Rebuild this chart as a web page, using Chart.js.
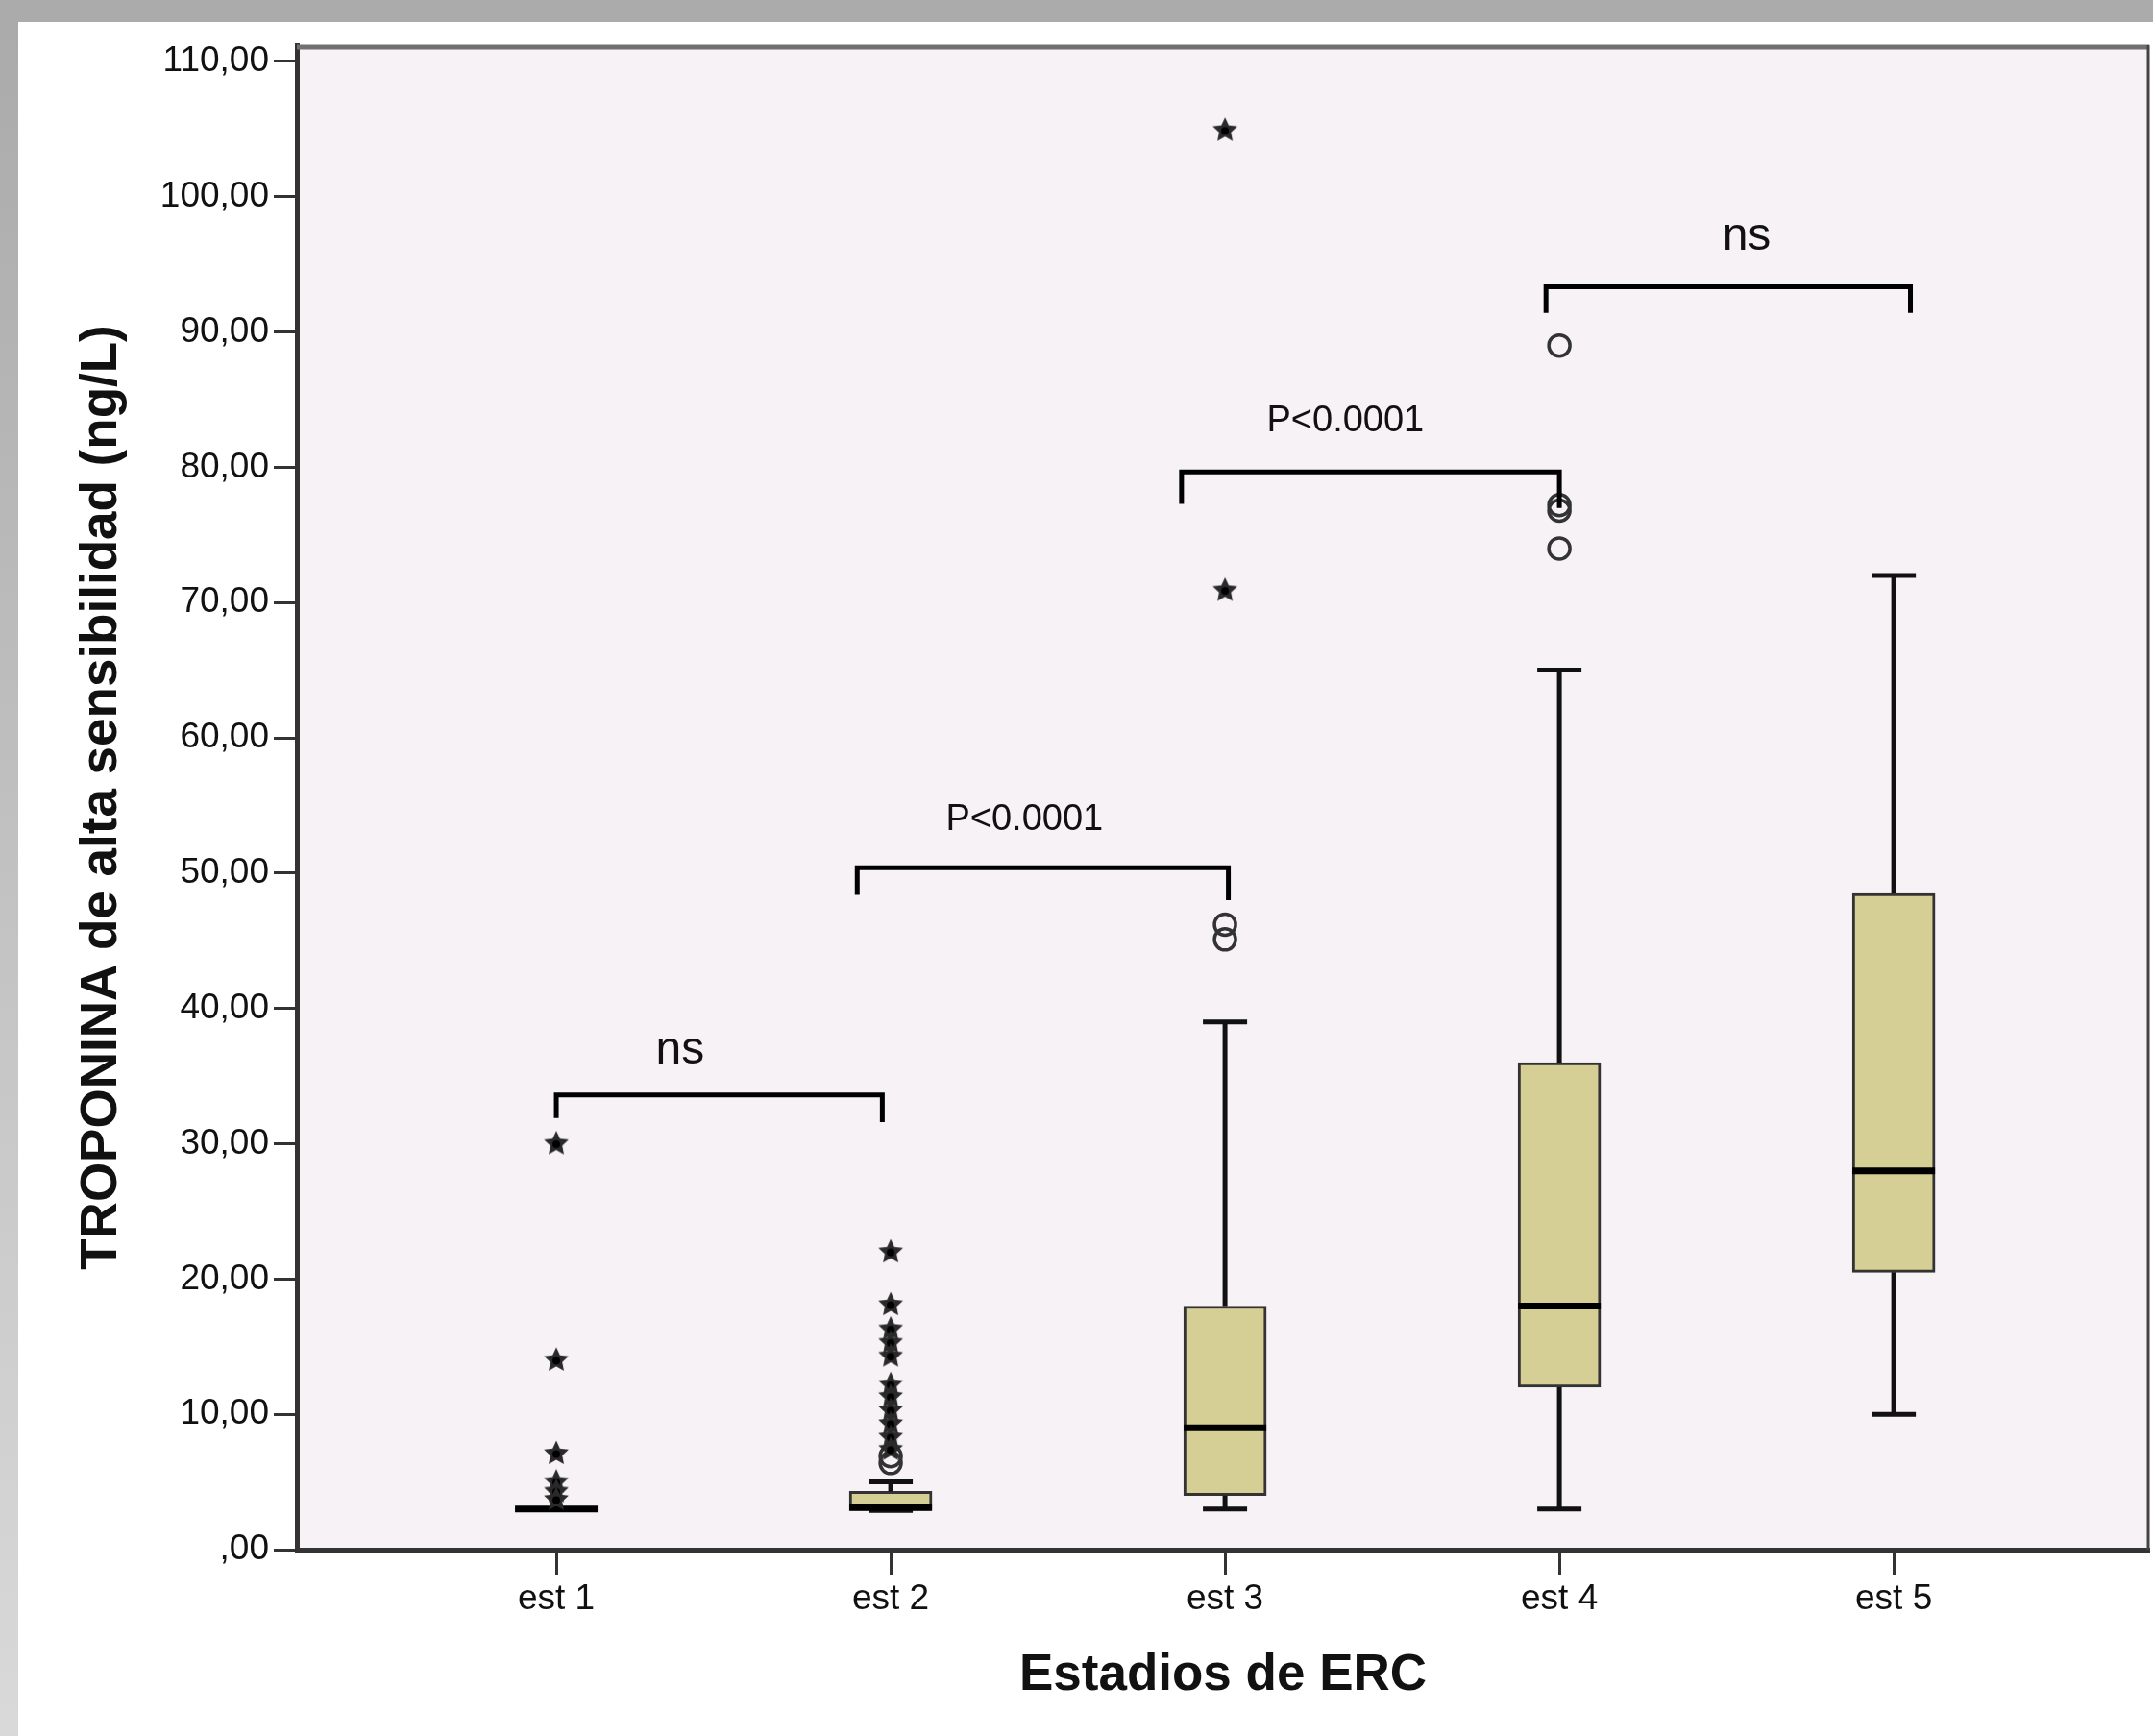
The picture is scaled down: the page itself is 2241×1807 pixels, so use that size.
<!DOCTYPE html>
<html>
<head>
<meta charset="utf-8">
<script src="https://cdn.jsdelivr.net/npm/chart.js@4.4.1/dist/chart.umd.min.js"></script>
<style>
    html, body { margin: 0; padding: 0; background: #fff; }
    #wrap { position: relative; width: 2241px; height: 1807px; }
</style>
</head>
<body>
<div id="wrap"><canvas id="chart" width="2241" height="1807"></canvas></div>
<script>
const categories = ['est 1', 'est 2', 'est 3', 'est 4', 'est 5'];
const whiskerLow = [3, 2.9, 3, 3, 10];
const q1 = [3, 2.9, 4, 12, 20.5];
const medians = [3, 3.1, 9, 18, 28];
const q3 = [3, 4.3, 18, 36, 48.5];
const whiskerHigh = [3, 5, 39, 65, 72];
const outliersCircle = [[], [6.9, 6.4], [46.2, 45.1], [89, 77.2, 76.8, 74], []];
const outliersStar = [
    [30, 14, 7.1, 5, 4.3, 3.7],
    [22, 18.1, 16.3, 15.3, 14.3, 12.2, 11.3, 10.3, 9.3, 8.3, 7.4],
    [104.9, 70.9],
    [],
    []
];
const yTicks = [0, 10, 20, 30, 40, 50, 60, 70, 80, 90, 100, 110];
const yTickLabels = [',00', '10,00', '20,00', '30,00', '40,00', '50,00', '60,00', '70,00', '80,00', '90,00', '100,00', '110,00'];

// significance brackets (data units)
const bracketLabels = ['ns', 'P<0.0001', 'P<0.0001', 'ns'];
const bracketFrom = [1.0, 1.9, 2.87, 3.96];
const bracketTo = [1.975, 3.01, 4.0, 5.05];
const bracketTop = [33.6, 50.4, 79.65, 93.35];
const bracketFromEnd = [31.9, 48.4, 77.3, 91.4];
const bracketToEnd = [31.6, 48.0, 77.0, 91.4];
const labelX = [1.37, 2.4, 3.36, 4.56];
const labelY = [36.9, 53.9, 83.4, 97.0];

const FONT = "'Liberation Sans', Arial, sans-serif";

// star marker for extreme values
const star = document.createElement('canvas');
star.width = 30; star.height = 30;
(() => {
    const c = star.getContext('2d');
    c.beginPath();
    for (let i = 0; i < 10; i++) {
        const r = i % 2 === 0 ? 13.5 : 6.5;
        const a = -Math.PI / 2 + i * Math.PI / 5;
        const px = 15 + r * Math.cos(a), py = 15 + r * Math.sin(a);
        if (i === 0) c.moveTo(px, py); else c.lineTo(px, py);
    }
    c.closePath();
    c.fillStyle = '#2a2a2a';
    c.fill();
    c.fillStyle = '#000';
    c.beginPath();
    c.arc(15, 15.5, 4, 0, Math.PI * 2);
    c.fill();
})();

const framePlugin = {
    id: 'frame',
    beforeDraw(chart) {
        const {ctx, chartArea: a, width, height} = chart;
        ctx.save();
        ctx.fillStyle = '#fff';
        ctx.fillRect(0, 0, width, height);
        const g = ctx.createLinearGradient(0, 0, 0, height);
        g.addColorStop(0, '#aaaaaa');
        g.addColorStop(1, '#d9d9d9');
        ctx.fillStyle = g;
        ctx.fillRect(0, 0, 19, height);
        ctx.fillStyle = '#ababab';
        ctx.fillRect(0, 0, width, 23);
        ctx.fillStyle = '#f7f2f6';
        ctx.fillRect(a.left, a.top, a.right - a.left, a.bottom - a.top);
        ctx.restore();
    },
    afterDraw(chart) {
        const {ctx, chartArea: a} = chart;
        ctx.save();
        ctx.strokeStyle = '#707070';
        ctx.lineWidth = 5;
        ctx.beginPath();
        ctx.moveTo(a.left, a.top + 2);
        ctx.lineTo(a.right, a.top + 2);
        ctx.stroke();
        ctx.strokeStyle = '#444';
        ctx.lineWidth = 3;
        ctx.beginPath();
        ctx.moveTo(a.right - 1, a.top);
        ctx.lineTo(a.right - 1, a.bottom);
        ctx.stroke();
        ctx.restore();
    }
};

const boxPlugin = {
    id: 'boxParts',
    afterDatasetDraw(chart, args) {
        if (args.meta.type !== 'bar') return;
        const {ctx, scales: {x, y}} = chart;
        ctx.save();
        ctx.strokeStyle = '#111';
        categories.forEach((c, i) => {
            const px = x.getPixelForValue(i + 1);
            ctx.lineWidth = 5;
            ctx.beginPath();
            ctx.moveTo(px, y.getPixelForValue(q3[i]));
            ctx.lineTo(px, y.getPixelForValue(whiskerHigh[i]));
            ctx.moveTo(px, y.getPixelForValue(q1[i]));
            ctx.lineTo(px, y.getPixelForValue(whiskerLow[i]));
            ctx.stroke();
            ctx.beginPath();
            [whiskerHigh[i], whiskerLow[i]].forEach(v => {
                const py = y.getPixelForValue(v);
                ctx.moveTo(px - 23, py);
                ctx.lineTo(px + 23, py);
            });
            ctx.stroke();
            ctx.lineWidth = 7;
            ctx.strokeStyle = '#000';
            ctx.beginPath();
            const pm = y.getPixelForValue(medians[i]);
            ctx.moveTo(px - 43, pm);
            ctx.lineTo(px + 43, pm);
            ctx.stroke();
            ctx.strokeStyle = '#111';
        });
        ctx.restore();
    }
};

const bracketPlugin = {
    id: 'brackets',
    afterDatasetsDraw(chart) {
        const {ctx, scales: {x, y}} = chart;
        ctx.save();
        ctx.strokeStyle = '#000';
        ctx.lineWidth = 5;
        ctx.lineJoin = 'miter';
        bracketLabels.forEach((lab, i) => {
            ctx.beginPath();
            ctx.moveTo(x.getPixelForValue(bracketFrom[i]), y.getPixelForValue(bracketFromEnd[i]));
            ctx.lineTo(x.getPixelForValue(bracketFrom[i]), y.getPixelForValue(bracketTop[i]));
            ctx.lineTo(x.getPixelForValue(bracketTo[i]), y.getPixelForValue(bracketTop[i]));
            ctx.lineTo(x.getPixelForValue(bracketTo[i]), y.getPixelForValue(bracketToEnd[i]));
            ctx.stroke();
            ctx.fillStyle = '#111';
            ctx.font = (lab === 'ns' ? '48px ' : '38px ') + FONT;
            ctx.textAlign = 'center';
            ctx.textBaseline = 'middle';
            ctx.fillText(lab, x.getPixelForValue(labelX[i]), y.getPixelForValue(labelY[i]));
        });
        ctx.restore();
    }
};

const toPoints = groups => groups.flatMap((vals, i) => vals.map(v => ({x: i + 1, y: v})));

new Chart(document.getElementById('chart'), {
    type: 'bar',
    data: {
        datasets: [
            {
                type: 'scatter',
                data: toPoints(outliersStar),
                pointStyle: star,
                order: 0
            },
            {
                type: 'scatter',
                data: toPoints(outliersCircle),
                pointStyle: 'circle',
                pointRadius: 11,
                borderWidth: 3.5,
                borderColor: '#333',
                backgroundColor: 'rgba(0,0,0,0)',
                order: 1
            },
            {
                type: 'bar',
                data: categories.map((c, i) => ({x: i + 1, y: [q1[i], q3[i]]})),
                backgroundColor: '#d6cf95',
                borderColor: '#333',
                borderWidth: 3,
                borderSkipped: false,
                barThickness: 86,
                order: 2
            }
        ]
    },
    options: {
        responsive: false,
        animation: false,
        layout: { autoPadding: false, padding: { left: 18, top: 47, right: 4, bottom: 0 } },
        plugins: { legend: { display: false }, tooltip: { enabled: false } },
        scales: {
            x: {
                type: 'linear',
                min: 0.224,
                max: 5.764,
                offset: false,
                afterBuildTicks: axis => { axis.ticks = categories.map((c, i) => ({value: i + 1})); },
                afterFit: axis => { axis.height = 194; axis.paddingLeft = 0; axis.paddingRight = 0; },
                grid: { drawOnChartArea: false, offset: false, drawTicks: true, tickLength: 26, tickWidth: 3, tickColor: '#333' },
                border: { display: true, color: '#333', width: 5 },
                ticks: {
                    color: '#111',
                    padding: 4,
                    font: { family: FONT, size: 37 },
                    callback: v => categories[v - 1]
                },
                title: {
                    display: true,
                    text: 'Estadios de ERC',
                    color: '#111',
                    font: { family: FONT, size: 53, weight: 'bold' },
                    padding: { top: 0, bottom: 31 }
                }
            },
            y: {
                type: 'linear',
                min: 0,
                max: 111.2,
                afterBuildTicks: axis => { axis.ticks = yTicks.map(v => ({value: v})); },
                afterFit: axis => { axis.width = 291; axis.paddingTop = 0; axis.paddingBottom = 0; },
                grid: { drawOnChartArea: false, drawTicks: true, tickLength: 24, tickWidth: 3, tickColor: '#333' },
                border: { display: true, color: '#333', width: 5 },
                ticks: {
                    color: '#111',
                    padding: 5,
                    font: { family: FONT, size: 37 },
                    callback: v => yTickLabels[yTicks.indexOf(v)]
                },
                title: {
                    display: true,
                    text: 'TROPONINA de alta sensibilidad (ng/L)',
                    color: '#111',
                    font: { family: FONT, size: 53, weight: 'bold' },
                    padding: { top: 57, bottom: 0 }
                }
            }
        }
    },
    plugins: [framePlugin, boxPlugin, bracketPlugin]
});
</script>
</body>
</html>
